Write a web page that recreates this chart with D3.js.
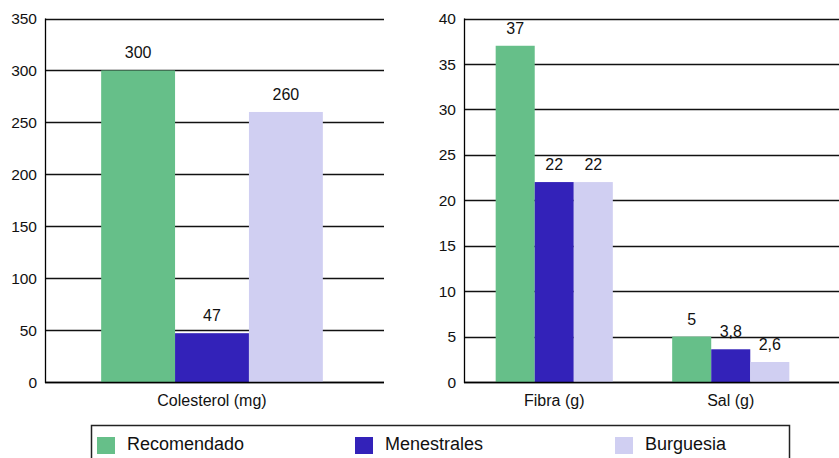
<!DOCTYPE html>
<html>
<head>
<meta charset="utf-8">
<script src="https://cdn.jsdelivr.net/npm/d3@7"></script>
<style>
  body { margin: 0; background: #fff; }
  svg { display: block; font-family: "Liberation Sans", Arial, sans-serif; }
</style>
</head>
<body>
<svg id="chart" width="839" height="458"></svg>
<script>
// series
const seriesNames = ["Recomendado", "Menestrales", "Burguesia"];
const seriesColors = ["#66bf89", "#3322b9", "#d0cff2"];

// left panel
const leftCategories = ["Colesterol (mg)"];
const leftRecomendado = [300];
const leftMenestrales = [47];
const leftBurguesia = [260];
const leftLabels = [["300"], ["47"], ["260"]];
const leftTicks = [0, 50, 100, 150, 200, 250, 300, 350];

// right panel (bar heights as drawn, labels as printed)
const rightCategories = ["Fibra (g)", "Sal (g)"];
const rightRecomendado = [37, 5];
const rightMenestrales = [22, 3.6];
const rightBurguesia = [22, 2.2];
const rightLabels = [["37", "5"], ["22", "3,8"], ["22", "2,6"]];
const rightTicks = [0, 5, 10, 15, 20, 25, 30, 35, 40];

const svg = d3.select("#chart");
const plotTop = 18.5, plotBottom = 382;

function drawPanel(opts) {
    const { cats, values, labels, ticks, yMax, axisX, gridEnd, bandRange } = opts;

    const y = d3.scaleLinear()
        .domain([0, yMax])
        .range([plotBottom, plotTop]);

    const x0 = d3.scaleBand()
        .domain(cats)
        .range(bandRange)
        .padding(0);

    const x1 = d3.scaleBand()
        .domain(d3.range(seriesNames.length))
        .range([0, x0.bandwidth()])
        .paddingInner(0)
        .paddingOuter(0.76);

    const g = svg.append("g");

    // gridlines
    g.append("g")
        .selectAll("line")
        .data(ticks)
        .join("line")
        .attr("x1", axisX)
        .attr("x2", gridEnd)
        .attr("y1", d => Math.round(y(d)) + 0.5)
        .attr("y2", d => Math.round(y(d)) + 0.5)
        .attr("stroke", "#111")
        .attr("stroke-width", 1.3);

    // bars
    const rows = cats.map((c, i) => ({ cat: c, i }));
    const grp = g.append("g")
        .selectAll("g")
        .data(rows)
        .join("g")
        .attr("transform", d => `translate(${x0(d.cat)},0)`);

    grp.selectAll("rect")
        .data(d => values.map((s, k) => ({ k, v: s[d.i], label: labels[k][d.i] })))
        .join("rect")
        .attr("x", d => x1(d.k))
        .attr("width", x1.bandwidth())
        .attr("y", d => y(d.v))
        .attr("height", d => y(0) - y(d.v))
        .attr("fill", d => seriesColors[d.k]);

    grp.selectAll("text")
        .data(d => values.map((s, k) => ({ k, v: s[d.i], label: labels[k][d.i] })))
        .join("text")
        .attr("x", d => x1(d.k) + x1.bandwidth() / 2)
        .attr("y", d => y(d.v) - 12)
        .attr("text-anchor", "middle")
        .attr("font-size", 16)
        .attr("fill", "#111")
        .text(d => d.label);

    // baseline and left axis
    g.append("line")
        .attr("x1", axisX).attr("x2", gridEnd)
        .attr("y1", Math.round(y(0)) + 0.5).attr("y2", Math.round(y(0)) + 0.5)
        .attr("stroke", "#000").attr("stroke-width", 1.6);
    g.append("line")
        .attr("x1", axisX + 0.5).attr("x2", axisX + 0.5)
        .attr("y1", y(yMax)).attr("y2", y(0) + 1)
        .attr("stroke", "#000").attr("stroke-width", 1.3);

    // tick labels
    g.append("g")
        .selectAll("text")
        .data(ticks)
        .join("text")
        .attr("x", axisX - 8)
        .attr("y", d => y(d))
        .attr("dy", "0.36em")
        .attr("text-anchor", "end")
        .attr("font-size", 15.5)
        .attr("fill", "#111")
        .text(d => d);

    // category labels
    g.append("g")
        .selectAll("text")
        .data(cats)
        .join("text")
        .attr("x", d => x0(d) + x0.bandwidth() / 2)
        .attr("y", 406)
        .attr("text-anchor", "middle")
        .attr("font-size", 16)
        .attr("fill", "#111")
        .text(d => d);
}

drawPanel({
    cats: leftCategories,
    values: [leftRecomendado, leftMenestrales, leftBurguesia],
    labels: leftLabels,
    ticks: leftTicks,
    yMax: 350,
    axisX: 45,
    gridEnd: 384,
    bandRange: [45, 379]
});

drawPanel({
    cats: rightCategories,
    values: [rightRecomendado, rightMenestrales, rightBurguesia],
    labels: rightLabels,
    ticks: rightTicks,
    yMax: 40,
    axisX: 464,
    gridEnd: 839,
    bandRange: [466, 819]
});

// legend
const legendX = [97, 355, 615];
const legend = svg.append("g");
legend.append("rect")
    .attr("x", 91.5).attr("y", 425.5)
    .attr("width", 698).attr("height", 60)
    .attr("fill", "#fff")
    .attr("stroke", "#222")
    .attr("stroke-width", 1.5);

const items = legend.selectAll("g.item")
    .data(seriesNames)
    .join("g")
    .attr("class", "item")
    .attr("transform", (d, i) => `translate(${legendX[i]},437)`);

items.append("rect")
    .attr("width", 18).attr("height", 17)
    .attr("fill", (d, i) => seriesColors[i]);

items.append("text")
    .attr("x", 30)
    .attr("y", 13)
    .attr("font-size", 18)
    .attr("fill", "#111")
    .text(d => d);
</script>
</body>
</html>
